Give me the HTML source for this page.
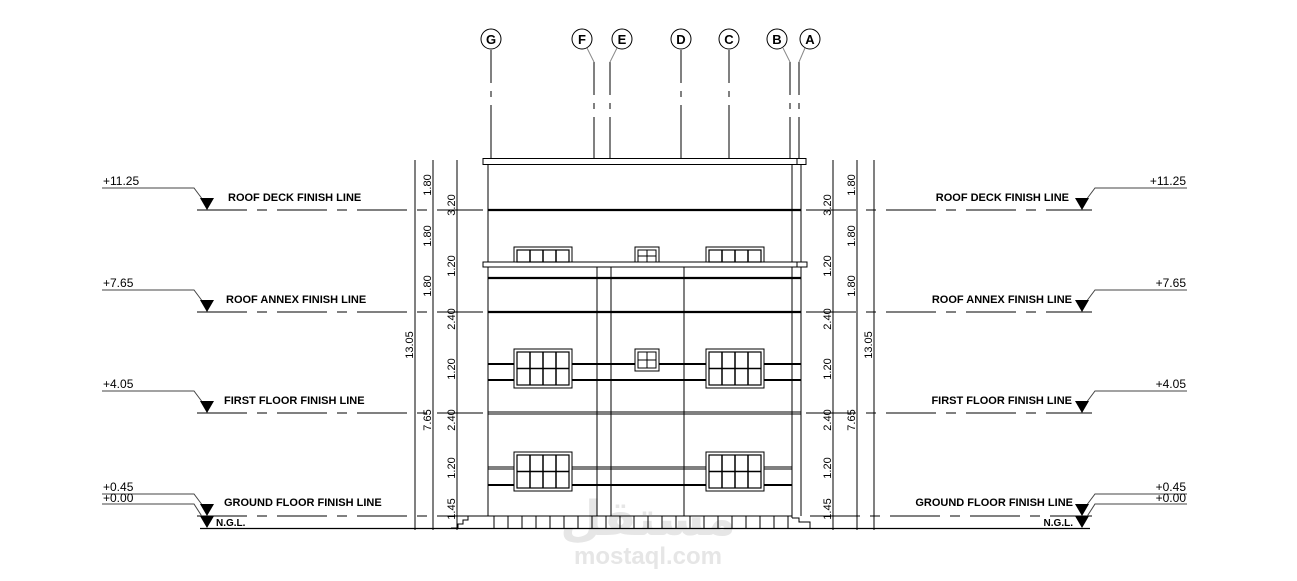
<!DOCTYPE html>
<html><head><meta charset="utf-8"><style>
html,body{margin:0;padding:0;background:#fff;}
svg{display:block;}
.t{font-family:"Liberation Sans",sans-serif;}
.b{font-family:"Liberation Sans",sans-serif;font-weight:bold;font-size:11px;}
</style></head><body>
<svg width="1297" height="581" viewBox="0 0 1297 581" xmlns="http://www.w3.org/2000/svg">
<defs>
<g id="win">
<rect x="0" y="0" width="58" height="39" fill="#fff" stroke="#000" stroke-width="1"/>
<rect x="3" y="3" width="52" height="33" fill="none" stroke="#000" stroke-width="1.2"/>
<line x1="16" y1="3" x2="16" y2="36" stroke="#000" stroke-width="1.5"/>
<line x1="29" y1="3" x2="29" y2="36" stroke="#000" stroke-width="1.5"/>
<line x1="42" y1="3" x2="42" y2="36" stroke="#000" stroke-width="1.5"/>
<line x1="3" y1="19.5" x2="55" y2="19.5" stroke="#000" stroke-width="1.5"/>
</g>
<g id="pwin">
<rect x="0" y="0" width="58" height="15" fill="#fff" stroke="#000" stroke-width="1"/>
<rect x="3" y="3" width="52" height="12" fill="none" stroke="#000" stroke-width="1.2"/>
<line x1="16" y1="3" x2="16" y2="15" stroke="#000" stroke-width="1.5"/>
<line x1="29" y1="3" x2="29" y2="15" stroke="#000" stroke-width="1.5"/>
<line x1="42" y1="3" x2="42" y2="15" stroke="#000" stroke-width="1.5"/>
</g>
<g id="swin">
<rect x="0" y="0" width="24" height="22" fill="#fff" stroke="#000" stroke-width="1"/>
<rect x="3" y="3" width="18" height="16" fill="none" stroke="#000" stroke-width="1"/>
<line x1="12" y1="3" x2="12" y2="19" stroke="#000"/>
<line x1="3" y1="11" x2="21" y2="11" stroke="#000"/>
</g>
</defs>

<!-- watermark -->
<text x="648" y="535" text-anchor="middle" font-family="'Liberation Sans','DejaVu Sans',sans-serif" font-weight="bold" font-size="48" fill="#e6e6e6">مستقل</text>
<text x="648" y="564" text-anchor="middle" class="t" font-weight="bold" font-size="24" fill="#e6e6e6">mostaql.com</text>

<g stroke="#000" fill="none" stroke-width="1">
<g stroke-dasharray="33,8,6,8,200">
<line x1="491" y1="50" x2="491" y2="159"/>
<line x1="594" y1="62" x2="594" y2="159"/>
<line x1="610" y1="62" x2="610" y2="159"/>
<line x1="681" y1="50" x2="681" y2="159"/>
<line x1="729" y1="50" x2="729" y2="159"/>
<line x1="790" y1="62" x2="790" y2="159"/>
<line x1="799" y1="62" x2="799" y2="159"/>
</g>
<g stroke="#888">
<line x1="587" y1="48" x2="594" y2="62"/>
<line x1="617" y1="48" x2="610" y2="62"/>
<line x1="783" y1="48" x2="790" y2="62"/>
<line x1="805" y1="48" x2="799" y2="62"/>
</g>
<g fill="#fff">
<circle cx="491" cy="39" r="10"/><circle cx="582" cy="39" r="10"/><circle cx="622" cy="39" r="10"/>
<circle cx="681" cy="39" r="10"/><circle cx="729" cy="39" r="10"/><circle cx="777" cy="39" r="10"/><circle cx="810" cy="39" r="10"/>
</g>

<rect x="483" y="158.5" width="323" height="6" fill="#fff"/>
<line x1="797" y1="158.5" x2="797" y2="164.5"/>
<line x1="488" y1="164.5" x2="488" y2="516"/>
<line x1="792" y1="164.5" x2="792" y2="516"/>
<line x1="801" y1="164.5" x2="801" y2="516"/>
<line x1="488" y1="210" x2="801" y2="210" stroke-width="2.2"/>
<line x1="488" y1="278" x2="801" y2="278" stroke-width="2.2"/>
<line x1="488" y1="312" x2="801" y2="312" stroke-width="2.2"/>
<line x1="488" y1="412" x2="801" y2="412"/>
<line x1="488" y1="414" x2="801" y2="414"/>
<rect x="483" y="262" width="324" height="5" fill="#fff"/>
<line x1="797" y1="262" x2="797" y2="267"/>
<line x1="597" y1="267" x2="597" y2="516"/>
<line x1="611" y1="267" x2="611" y2="516"/>
<line x1="684" y1="267" x2="684" y2="516"/>
<line x1="488" y1="364" x2="801" y2="364" stroke-width="2"/>
<line x1="488" y1="380" x2="801" y2="380" stroke-width="2"/>
<line x1="488" y1="467" x2="792" y2="467"/>
<line x1="488" y1="469" x2="792" y2="469"/>
<line x1="488" y1="485" x2="792" y2="485" stroke-width="2"/>
</g>
<use href="#pwin" x="514" y="247"/>
<use href="#pwin" x="706" y="247"/>
<rect x="635" y="247" width="24" height="15" fill="#fff" stroke="#000"/>
<rect x="638" y="250" width="18" height="12" fill="none" stroke="#000"/>
<line x1="647" y1="250" x2="647" y2="262" stroke="#000"/>
<line x1="638" y1="256" x2="656" y2="256" stroke="#000"/>
<use href="#win" x="514" y="349"/>
<use href="#win" x="706" y="349"/>
<use href="#swin" x="635" y="349"/>
<use href="#win" x="514" y="452"/>
<use href="#win" x="706" y="452"/>

<g stroke="#000" fill="none" stroke-width="1">
<line x1="457" y1="516" x2="488" y2="516"/>
<line x1="488" y1="516" x2="792" y2="516"/>
<line x1="792" y1="516" x2="792" y2="518"/>
<polyline points="792,518 799,518 799,522 810,522 810,528"/>
<polyline points="451,528 458,528 458,524 463,524 463,520 468,520 468,516"/>
<path d="M494 516V528 M508 516V528 M522 516V528 M536 516V528 M550 516V528 M564 516V528 M578 516V528 M592 516V528 M606 516V528 M620 516V528 M634 516V528 M648 516V528 M662 516V528 M676 516V528 M690 516V528 M704 516V528 M718 516V528 M732 516V528 M746 516V528 M760 516V528 M774 516V528 M788 516V528"/>
<line x1="200" y1="528.5" x2="1090" y2="528.5" stroke-width="1.3"/>

<line x1="415" y1="160" x2="415" y2="530"/>
<line x1="433" y1="160" x2="433" y2="530"/>
<line x1="457" y1="160" x2="457" y2="530"/>
<line x1="833" y1="160" x2="833" y2="530"/>
<line x1="857" y1="160" x2="857" y2="530"/>
<line x1="874" y1="160" x2="874" y2="530"/>

<g stroke-dasharray="50,10,10,10">
<line x1="197" y1="210" x2="483" y2="210"/>
<line x1="197" y1="312" x2="483" y2="312"/>
<line x1="197" y1="413" x2="483" y2="413"/>
<line x1="197" y1="516" x2="457" y2="516"/>
<line x1="806" y1="210" x2="1092" y2="210"/>
<line x1="806" y1="312" x2="1092" y2="312"/>
<line x1="806" y1="413" x2="1092" y2="413"/>
<line x1="810" y1="516" x2="1092" y2="516"/>
</g>
<g stroke="#444">
<polyline points="102,188 194,188 203,200"/>
<polyline points="102,290 194,290 203,302"/>
<polyline points="102,391 194,391 203,403"/>
<polyline points="102,494 194,494 203,506"/>
<polyline points="102,504 194,504 203,518"/>
<polyline points="1187,188 1095,188 1086,200"/>
<polyline points="1187,290 1095,290 1086,302"/>
<polyline points="1187,391 1095,391 1086,403"/>
<polyline points="1187,494 1095,494 1086,506"/>
<polyline points="1187,504 1095,504 1086,518"/>
</g>
</g>
<g fill="#000">
<polygon points="200,198 214,198 207,210"/>
<polygon points="200,300 214,300 207,312"/>
<polygon points="200,401 214,401 207,413"/>
<polygon points="200,504 214,504 207,516"/>
<polygon points="200,516 214,516 207,528"/>
<polygon points="1075,198 1089,198 1082,210"/>
<polygon points="1075,300 1089,300 1082,312"/>
<polygon points="1075,401 1089,401 1082,413"/>
<polygon points="1075,504 1089,504 1082,516"/>
<polygon points="1075,516 1089,516 1082,528"/>
</g>

<g class="t" font-weight="bold" font-size="13" text-anchor="middle">
<text x="491" y="44">G</text><text x="582" y="44">F</text><text x="622" y="44">E</text>
<text x="681" y="44">D</text><text x="729" y="44">C</text><text x="777" y="44">B</text><text x="810" y="44">A</text>
</g>

<g class="t" font-size="12">
<text x="103" y="185">+11.25</text><text x="103" y="287">+7.65</text><text x="103" y="388">+4.05</text>
<text x="103" y="491">+0.45</text><text x="103" y="502">+0.00</text>
</g>
<g class="t" font-size="12" text-anchor="end">
<text x="1186" y="185">+11.25</text><text x="1186" y="287">+7.65</text><text x="1186" y="388">+4.05</text>
<text x="1186" y="491">+0.45</text><text x="1186" y="502">+0.00</text>
</g>
<g class="b">
<text x="228" y="201">ROOF DECK FINISH LINE</text>
<text x="226" y="303">ROOF ANNEX FINISH LINE</text>
<text x="224" y="404">FIRST FLOOR FINISH LINE</text>
<text x="224" y="506">GROUND FLOOR FINISH LINE</text>
<text x="216" y="526" font-size="10">N.G.L.</text>
</g>
<g class="b" text-anchor="end">
<text x="1069" y="201">ROOF DECK FINISH LINE</text>
<text x="1072" y="303">ROOF ANNEX FINISH LINE</text>
<text x="1072" y="404">FIRST FLOOR FINISH LINE</text>
<text x="1073" y="506">GROUND FLOOR FINISH LINE</text>
<text x="1073" y="526" font-size="10">N.G.L.</text>
</g>

<g class="t" font-size="11" text-anchor="middle">
<text transform="translate(431,185) rotate(-90)">1.80</text>
<text transform="translate(431,236) rotate(-90)">1.80</text>
<text transform="translate(431,286) rotate(-90)">1.80</text>
<text transform="translate(431,420) rotate(-90)">7.65</text>
<text transform="translate(413,345) rotate(-90)">13.05</text>
<text transform="translate(455,205) rotate(-90)">3.20</text>
<text transform="translate(455,266) rotate(-90)">1.20</text>
<text transform="translate(455,319) rotate(-90)">2.40</text>
<text transform="translate(455,369) rotate(-90)">1.20</text>
<text transform="translate(455,420) rotate(-90)">2.40</text>
<text transform="translate(455,468) rotate(-90)">1.20</text>
<text transform="translate(455,509) rotate(-90)">1.45</text>

<text transform="translate(855,185) rotate(-90)">1.80</text>
<text transform="translate(855,236) rotate(-90)">1.80</text>
<text transform="translate(855,286) rotate(-90)">1.80</text>
<text transform="translate(855,420) rotate(-90)">7.65</text>
<text transform="translate(872,345) rotate(-90)">13.05</text>
<text transform="translate(831,205) rotate(-90)">3.20</text>
<text transform="translate(831,266) rotate(-90)">1.20</text>
<text transform="translate(831,319) rotate(-90)">2.40</text>
<text transform="translate(831,369) rotate(-90)">1.20</text>
<text transform="translate(831,420) rotate(-90)">2.40</text>
<text transform="translate(831,468) rotate(-90)">1.20</text>
<text transform="translate(831,509) rotate(-90)">1.45</text>
</g>
</svg>
</body></html>
